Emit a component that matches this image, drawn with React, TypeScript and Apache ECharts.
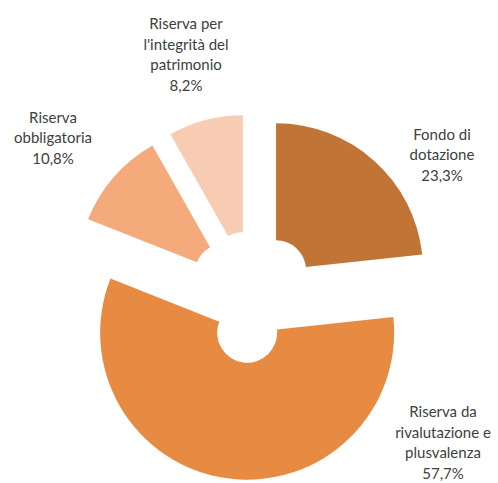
import React, { useEffect, useRef } from "react";
import * as echarts from "echarts";

const categories = [
  "Fondo di\ndotazione",
  "Riserva da\nrivalutazione e\nplusvalenza",
  "Riserva\nobbligatoria",
  "Riserva per\nl'integrità del\npatrimonio",
];
const values = [23.3, 57.7, 10.8, 8.2];
const colors = ["#C07536", "#E88B42", "#F5AA7B", "#F8CBB3"];
const labelPos = [
  [442, 154],
  [443, 442],
  [53, 137],
  [186, 54],
];

export default function App() {
  const ref = useRef<HTMLDivElement>(null);
  useEffect(() => {
    const chart = echarts.init(ref.current!, undefined, { renderer: "svg" });
    const data = categories.map((name, i) => ({
      name,
      value: values[i],
      selected: true,
      itemStyle: { color: colors[i] },
      select: { itemStyle: { color: colors[i], borderWidth: 0 } },
    }));
    const total = values.reduce((a, b) => a + b, 0);
    chart.setOption({
      animation: false,
      graphic: categories.map((name, i) => ({
        type: "text",
        x: labelPos[i][0],
        y: labelPos[i][1],
        style: {
          text: name + "\n" + ((values[i] / total) * 100).toFixed(1).replace(".", ",") + "%",
          fill: "#404040",
          font: "15px Lato",
          lineHeight: 20.5,
          align: "center",
          verticalAlign: "middle",
        },
      })),
      series: [
        {
          type: "pie",
          center: [252, 297],
          radius: [30, 147],
          startAngle: 90,
          clockwise: true,
          selectedMode: "multiple",
          selectedOffset: 36,
          emphasis: { disabled: true },
          data,
          label: { show: false },
          labelLine: { show: false },
        },
      ],
    });
    return () => chart.dispose();
  }, []);
  return (
    <div
      ref={ref}
      style={{ position: "fixed", left: 0, top: 0, width: 498, height: 483, background: "#fff" }}
    />
  );
}
